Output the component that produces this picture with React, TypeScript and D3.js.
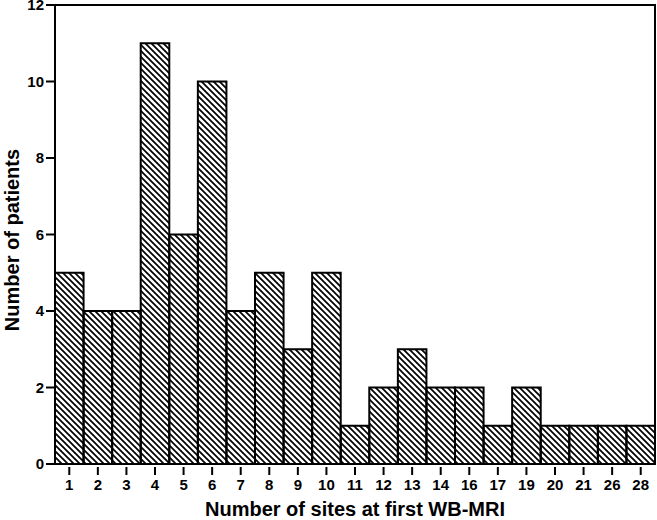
import React from 'react';
import * as d3 from 'd3';

const categories = ['1', '2', '3', '4', '5', '6', '7', '8', '9', '10', '11', '12', '13', '14', '16', '17', '19', '20', '21', '26', '28'];
const patients = [5, 4, 4, 11, 6, 10, 4, 5, 3, 5, 1, 2, 3, 2, 2, 1, 2, 1, 1, 1, 1];
const yTicks = [0, 2, 4, 6, 8, 10, 12];

const W = 657;
const H = 520;
const margin = { top: 5, right: 2, bottom: 56, left: 55 };

const App = () => {
  const x = d3.scaleBand<string>()
    .domain(categories)
    .range([margin.left, W - margin.right])
    .padding(0);
  const y = d3.scaleLinear().domain([0, 12]).range([H - margin.bottom, margin.top]);
  const font = 'Arial, "Liberation Sans", Helvetica, sans-serif';
  const x0 = margin.left;
  const x1 = W - margin.right;
  const yBase = y(0);

  return (
    <svg width={W} height={H} style={{ display: 'block', position: 'absolute', left: 0, top: 0 }}>
      <defs>
        <pattern id="hatch" width="6" height="6" patternUnits="userSpaceOnUse">
          <path d="M0,0 L6,6 M-1,5 L1,7 M5,-1 L7,1" stroke="#000" strokeWidth="1.7" />
        </pattern>
      </defs>
      <rect x={0} y={0} width={W} height={H} fill="#fff" />
      {/* frame */}
      <path d={`M${x0},${yBase} L${x0},${y(12)} L${x1},${y(12)} L${x1},${yBase}`} fill="none" stroke="#000" strokeWidth={2} />
      {categories.map((c, i) => (
        <rect
          key={c}
          x={x(c)}
          y={y(patients[i])}
          width={x.bandwidth()}
          height={yBase - y(patients[i])}
          fill="url(#hatch)"
          stroke="#000"
          strokeWidth={2}
        />
      ))}
      <line x1={x0} x2={x1} y1={yBase} y2={yBase} stroke="#000" strokeWidth={2} />
      {/* y axis */}
      {yTicks.map(t => (
        <g key={t}>
          <line x1={x0 - 9} x2={x0} y1={y(t)} y2={y(t)} stroke="#000" strokeWidth={2} />
          <text x={x0 - 11} y={y(t)} dy="0.36em" textAnchor="end" fontFamily={font} fontWeight="bold" fontSize={15}>{t}</text>
        </g>
      ))}
      {/* x axis ticks */}
      {categories.map(c => {
        const cx = (x(c) as number) + x.bandwidth() / 2;
        return (
          <g key={c}>
            <line x1={cx} x2={cx} y1={yBase + 3} y2={yBase + 11} stroke="#000" strokeWidth={2} />
            <text x={cx} y={yBase + 26} textAnchor="middle" fontFamily={font} fontWeight="bold" fontSize={15}>{c}</text>
          </g>
        );
      })}
      <text x={355} y={H - 4} textAnchor="middle" fontFamily={font} fontWeight="bold" fontSize={20}>Number of sites at first WB-MRI</text>
      <text transform={`translate(19,${240}) rotate(-90)`} textAnchor="middle" fontFamily={font} fontWeight="bold" fontSize={20}>Number of patients</text>
    </svg>
  );
};

export default App;
